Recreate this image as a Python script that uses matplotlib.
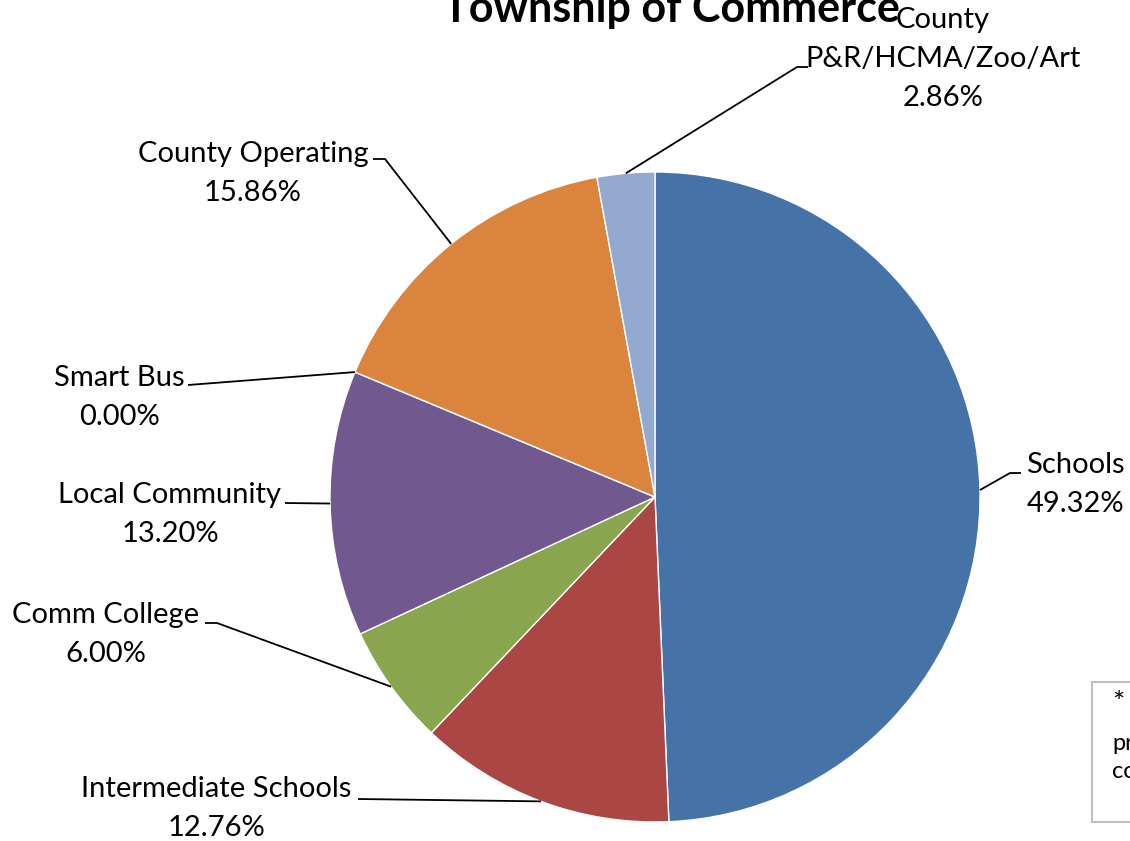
import numpy as np
import matplotlib.pyplot as plt
from matplotlib.patches import Rectangle

plt.rcParams["font.family"] = ["Lato", "DejaVu Sans"]

TITLE = "Township of Commerce"
CATEGORIES = ["Schools", "Intermediate Schools", "Comm College", "Local Community",
              "Smart Bus", "County Operating", "County\nP&R/HCMA/Zoo/Art"]
SHARES = [49.32, 12.76, 6.00, 13.20, 0.00, 15.86, 2.86]
COLORS = ["#4572A7", "#AA4643", "#89A54E", "#71588F", "#4198AF", "#DB843D", "#93A9CF"]

# label layout in pixel coords: (center x, first baseline y), elbow points
LABEL_POS = [(1075, 473), (216, 797), (106, 623), (170, 503), (119, 386), (253, 162), (943, 28)]
ELBOWS = [[(1010, 473), (1021, 473)],
          [(358, 799)],
          [(217, 623), (205, 623)],
          [(285, 503)],
          [(188, 385)],
          [(385, 159), (373, 159)],
          [(797, 67), (808, 67)]]

W, H = 1130, 841
CX, CY, R = 655, 497, 325
LINE_H = 39
FS = 21


def main():
    fig = plt.figure(figsize=(W / 100, H / 100), dpi=100)
    ax = fig.add_axes([0, 0, 1, 1])

    # y axis inverted so pixel coords can be used directly;
    # data angles are mirrored, so start at -90 and go counterclockwise
    wedges, _ = ax.pie(SHARES, colors=COLORS, startangle=-90, counterclock=True,
                       center=(CX, CY), radius=R, frame=True,
                       wedgeprops=dict(edgecolor="white", linewidth=1))
    ax.set_xlim(0, W)
    ax.set_ylim(H, 0)
    ax.set_aspect("equal")
    ax.axis("off")

    for wedge, name, share, pos, elbow in zip(wedges, CATEGORIES, SHARES, LABEL_POS, ELBOWS):
        mid = np.deg2rad((wedge.theta1 + wedge.theta2) / 2)
        edge = (CX + R * np.cos(mid), CY + R * np.sin(mid))
        pts = [edge] + elbow
        ax.plot([p[0] for p in pts], [p[1] for p in pts], color="black", lw=1.3,
                solid_capstyle="butt")

        lines = name.split("\n") + [f"{share:.2f}%"]
        for i, line in enumerate(lines):
            ax.text(pos[0], pos[1] + i * LINE_H, line, ha="center", va="baseline",
                    fontsize=FS, color="black")

    ax.text(671, 22, TITLE, ha="center", va="baseline", fontsize=31,
            fontweight="bold", color="black")

    # partially visible note box at the right edge
    ax.add_patch(Rectangle((1092, 682), 60, 140, facecolor="white",
                           edgecolor="#bfbfbf", lw=1.5, clip_on=False))
    ax.text(1112, 712, "*", ha="left", va="baseline", fontsize=21, color="black")
    for y, t in [(750, "pr"), (778, "co")]:
        ax.text(1112, y, t, ha="left", va="baseline", fontsize=17, color="black")

    fig.savefig("out.png", dpi=100)
    plt.close(fig)


if __name__ == "__main__":
    main()
